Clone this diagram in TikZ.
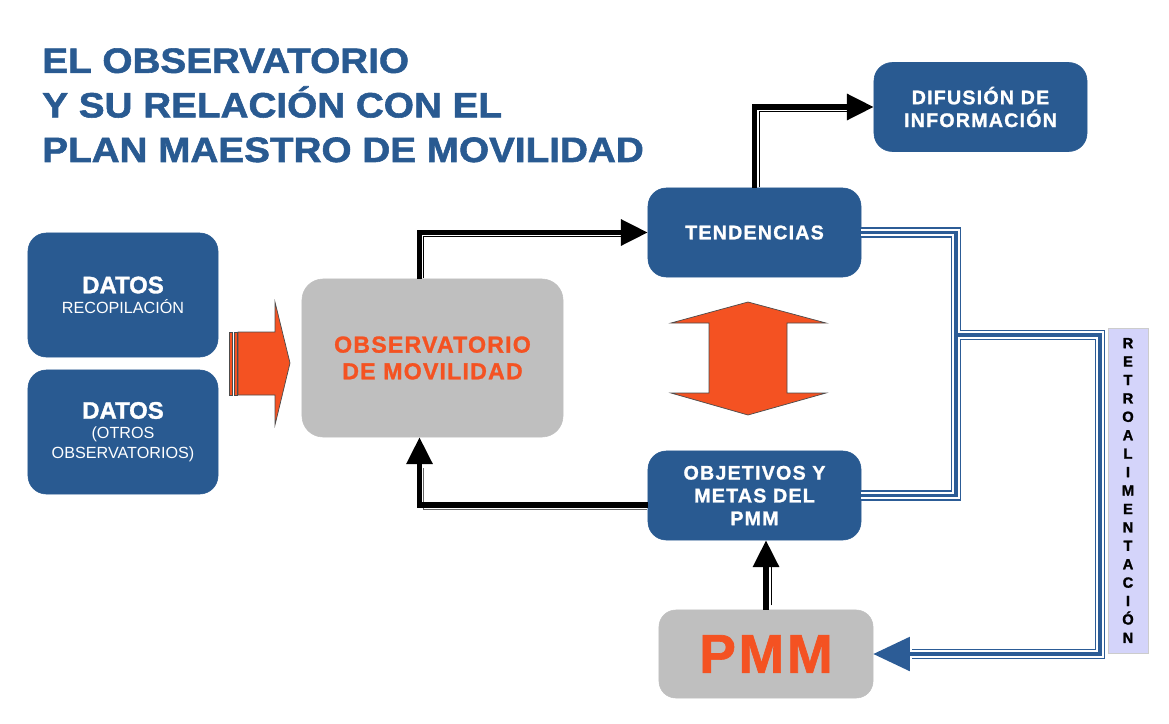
\documentclass[tikz,border=0pt]{standalone}
\usepackage{fontspec}
\setmainfont{Liberation Sans}
\newfontfamily\widefont{Liberation Sans}[FakeStretch=1.1, FakeBold=1.6]
\newfontfamily\spacedfont{Liberation Sans}[LetterSpace=6, FakeBold=1.2]
\newfontfamily\obsfont{Liberation Sans}[LetterSpace=5, FakeBold=1.2]
\newfontfamily\heavyfont{Liberation Sans}[FakeBold=1.4]
\usetikzlibrary{arrows.meta,calc}

\definecolor{boxblue}{RGB}{41,90,145}
\definecolor{lineblue}{RGB}{44,92,150}
\definecolor{obsgray}{RGB}{191,191,191}
\definecolor{flameorange}{RGB}{244,82,34}
\definecolor{retrolilac}{RGB}{212,212,250}

\tikzset{
  bluebox/.style={rectangle, rounded corners=13pt, fill=boxblue, draw=boxblue, text=white, align=center,
    minimum width=5.325cm, minimum height=2.225cm, font=\spacedfont\bfseries\fontsize{14}{16.2}\selectfont},
  datobox/.style={bluebox, minimum width=4.75cm, minimum height=3.1cm, font=\fontsize{11.5}{14.2}\selectfont},
  graybox/.style={rectangle, rounded corners=15pt, fill=obsgray, draw=obsgray, text=flameorange, align=center},
  flow/.style={line width=3.6pt, -{Triangle[length=19pt,width=18pt]}},
  flowtrace/.style={line width=0.7pt, shorten >=19pt, shorten <=3pt, transform canvas={shift={#1}}},
  feedback/.style={draw=white, line width=5.6pt, preaction={draw=lineblue, line width=7.5pt},
    postaction={draw=lineblue, line width=2.2pt}},
  fbhead/.style={draw=lineblue, line width=2.2pt, -{Triangle[length=26pt,width=24pt]}},
  bigarrow/.style={fill=flameorange, draw=black!70, line width=0.5pt}
}

\begin{document}
\begin{tikzpicture}[x=0.025cm, y=-0.025cm]
  % Slide frame
  \useasboundingbox (0,0) rectangle (1169,723);

  % Title
  \node[anchor=north west, inner sep=0pt, align=left, text=boxblue,
    font=\widefont\bfseries\fontsize{25}{31.7}\selectfont] (title) at (42,48)
    {EL OBSERVATORIO\\Y SU RELACIÓN CON EL\\PLAN MAESTRO DE MOVILIDAD};

  % Data sources
  \node[datobox] (datosrec) at (123,295) {{\heavyfont\bfseries\fontsize{17}{17}\selectfont DATOS}\\RECOPILACIÓN};
  \node[datobox] (datosotros) at (123,432) {{\heavyfont\bfseries\fontsize{17}{17}\selectfont DATOS}\\(OTROS\\OBSERVATORIOS)};

  % Main boxes
  \node[graybox, minimum width=6.525cm, minimum height=3.95cm,
    font=\obsfont\bfseries\fontsize{16.5}{19}\selectfont] (obs) at (432.5,358) {OBSERVATORIO\\DE MOVILIDAD};
  \node[bluebox] (tend) at (754.5,232.5) {TENDENCIAS};
  \node[bluebox] (dif) at (980.5,107) {DIFUSIÓN DE\\INFORMACIÓN};
  \node[bluebox] (obj) at (754.5,495.5) {OBJETIVOS Y\\METAS DEL\\PMM};
  \node[graybox, minimum width=5.35cm, minimum height=2.2cm, rounded corners=12pt,
    font=\obsfont\bfseries\fontsize{39}{39}\selectfont] (pmm) at (766,654) {PMM};

  % Feedback label
  \node[draw=black!20, fill=retrolilac, minimum width=1cm, minimum height=8.125cm, inner sep=0pt,
    align=center, font=\heavyfont\bfseries\fontsize{10.5}{13.1}\selectfont] (retro) at (1128,490.5)
    {R\\E\\T\\R\\O\\A\\L\\I\\M\\E\\N\\T\\A\\C\\I\\Ó\\N};

  % Orange block arrows
  \filldraw[bigarrow] (238,332) -- (275,332) -- (275,302) -- (290,363) -- (275,425) -- (275,395) -- (238,395) -- cycle;
  \filldraw[bigarrow] (229,332) rectangle (232,395);
  \filldraw[bigarrow] (234,332) rectangle (237,395);
  \filldraw[bigarrow] (748,302) -- (826,323) -- (787,323) -- (787,393) -- (826,393) -- (748,415)
    -- (671,393) -- (709,393) -- (709,323) -- (671,323) -- cycle;

  % Black flow arrows
  \coordinate (obsup) at ($(obs.north)+(-13,0)$);
  \coordinate (obsdown) at ($(obs.south)+(-13,0)$);
  \coordinate (objleft) at ($(obj.west)+(0,9.5)$);
  \draw[flowtrace={(4,4)}] (obsup) |- (tend.west);
  \draw[flow] (obsup) |- (tend.west);
  \draw[flowtrace={(5,4)}] (tend.north) |- (dif.west);
  \draw[flow] (tend.north) |- (dif.west);
  \draw[flowtrace={(4,4)}, draw=black!60] (objleft) -| (obsdown);
  \draw[flow] (objleft) -| (obsdown);
  \draw[flowtrace={(5,0)}] (pmm.north) -- (pmm.north |- obj.south);
  \draw[flow] (pmm.north) -- (pmm.north |- obj.south);

  % Feedback lines
  \coordinate (fbsplit) at (956,335);
  \coordinate (fbcorner) at (1100,335);
  \coordinate (fbend) at ($(pmm.east)+(39,0)$);
  \draw[feedback] (tend.east) -| (obj.east -| fbsplit) -- (obj.east)
    (fbsplit) -- (fbcorner) |- (fbend);
  \draw[fbhead] (fbend) -- (pmm.east);
\end{tikzpicture}
\end{document}
